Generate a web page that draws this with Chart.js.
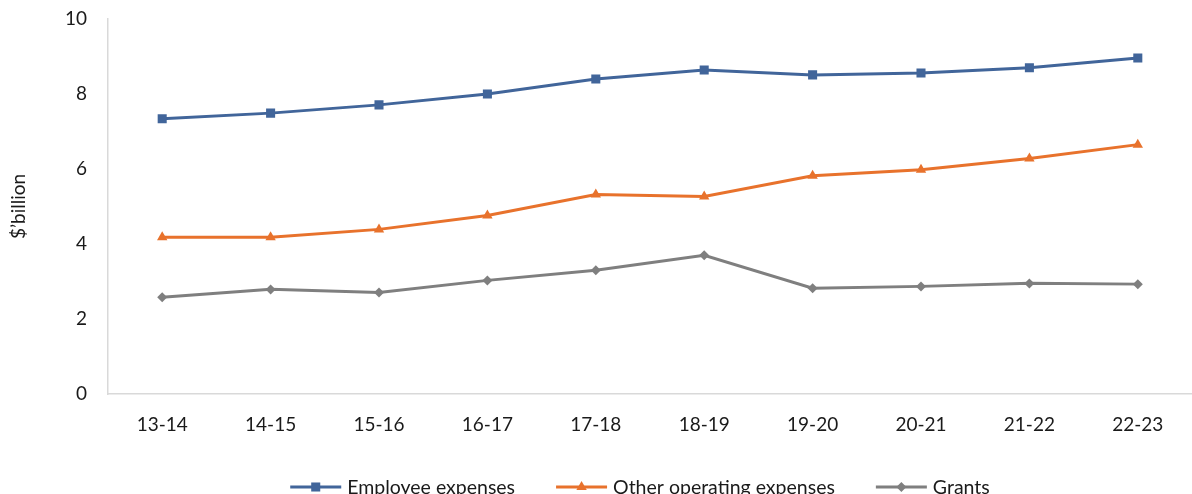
<!DOCTYPE html>
<html>
<head>
<meta charset="utf-8">
<title>Expenses by type</title>
<script src="https://cdn.jsdelivr.net/npm/chart.js@4.4.1/dist/chart.umd.min.js"></script>
<style>
  html, body { margin: 0; padding: 0; background: #fff; overflow: hidden; }
  #wrap { position: relative; width: 1192px; height: 494px; }
</style>
</head>
<body>
<div id="wrap"><canvas id="chart"></canvas></div>
<script>
  // ── Data ────────────────────────────────────────────────────────
  const years     = ["13-14", "14-15", "15-16", "16-17", "17-18", "18-19", "19-20", "20-21", "21-22", "22-23"];
  const employee  = [7.34, 7.49, 7.71, 8.00, 8.40, 8.64, 8.51, 8.56, 8.70, 8.96];
  const otherOps  = [4.18, 4.18, 4.39, 4.76, 5.32, 5.27, 5.82, 5.98, 6.28, 6.65];
  const grants    = [2.58, 2.79, 2.71, 3.03, 3.30, 3.70, 2.82, 2.87, 2.95, 2.93];
  const yTicks    = [0, 2, 4, 6, 8, 10];

  const fontFamily = "Lato, 'Open Sans', sans-serif";
  const axisColor  = "#d9d9d9";
  const textColor  = "#1a1a1a";

  Chart.defaults.font.family = fontFamily;
  Chart.defaults.color = textColor;

  function series(label, data, color, style, radius) {
    return {
      label,
      data,
      borderColor: color,
      backgroundColor: color,
      borderWidth: 3,
      pointStyle: style,
      pointRadius: radius,
      pointHoverRadius: radius,
      pointBorderWidth: 0,
      tension: 0,
    };
  }

  // ── Bottom legend: line sample with marker, then the label ──────
  const lineLegend = {
    id: "lineLegend",
    afterDraw(chart) {
      const ctx = chart.ctx;
      const y = 487;
      const sample = 51, gap = 6, spacing = 41;
      ctx.save();
      ctx.font = "19.5px " + fontFamily;
      const sets = chart.data.datasets;
      const widths = sets.map(d => ctx.measureText(d.label).width);
      const total = widths.reduce((s, w) => s + sample + gap + w, 0) + spacing * (sets.length - 1);
      let x = 640 - total / 2;
      sets.forEach((d, i) => {
        ctx.strokeStyle = d.borderColor;
        ctx.lineWidth = 3;
        ctx.beginPath();
        ctx.moveTo(x, y);
        ctx.lineTo(x + sample, y);
        ctx.stroke();
        ctx.fillStyle = d.backgroundColor;
        Chart.helpers.drawPoint(ctx, { pointStyle: d.pointStyle, radius: d.pointRadius, rotation: 0, borderWidth: 0 }, x + sample / 2, y);
        ctx.fillStyle = textColor;
        ctx.textBaseline = "middle";
        ctx.textAlign = "left";
        ctx.fillText(d.label, x + sample + gap, y + 1);
        x += sample + gap + widths[i] + spacing;
      });
      ctx.restore();
    },
  };

  new Chart(document.getElementById("chart"), {
    type: "line",
    data: {
      labels: years,
      datasets: [
        series("Employee expenses", employee, "#41659a", "rect", 6.4),
        series("Other operating expenses", otherOps, "#e8722c", "triangle", 6),
        series("Grants", grants, "#7f7f7f", "rectRot", 5),
      ],
    },
    options: {
      responsive: true,
      maintainAspectRatio: false,
      animation: false,
      layout: { autoPadding: false, padding: 0 },
      plugins: {
        legend: { display: false },
        tooltip: { enabled: false },
      },
      scales: {
        x: {
          offset: true,
          grid: { display: false },
          border: { color: axisColor, width: 1.5 },
          ticks: { font: { size: 19 }, color: textColor, padding: 11, maxRotation: 0 },
          afterFit(scale) {
            scale.height = 100;
            scale.paddingLeft = 0;
            scale.paddingRight = 0;
          },
        },
        y: {
          min: 0,
          max: 10,
          grid: { display: false },
          border: { color: axisColor, width: 1.5 },
          afterBuildTicks(scale) { scale.ticks = yTicks.map(v => ({ value: v })); },
          ticks: { font: { size: 19 }, color: textColor, padding: 13 },
          title: { display: true, text: "$\u2019billion", font: { size: 19 }, color: textColor, padding: { top: 7, bottom: 0 } },
          afterFit(scale) {
            scale.width = 108;
            scale.paddingTop = 19;
            scale.paddingBottom = 0;
          },
        },
      },
    },
    plugins: [lineLegend],
  });
</script>
</body>
</html>
